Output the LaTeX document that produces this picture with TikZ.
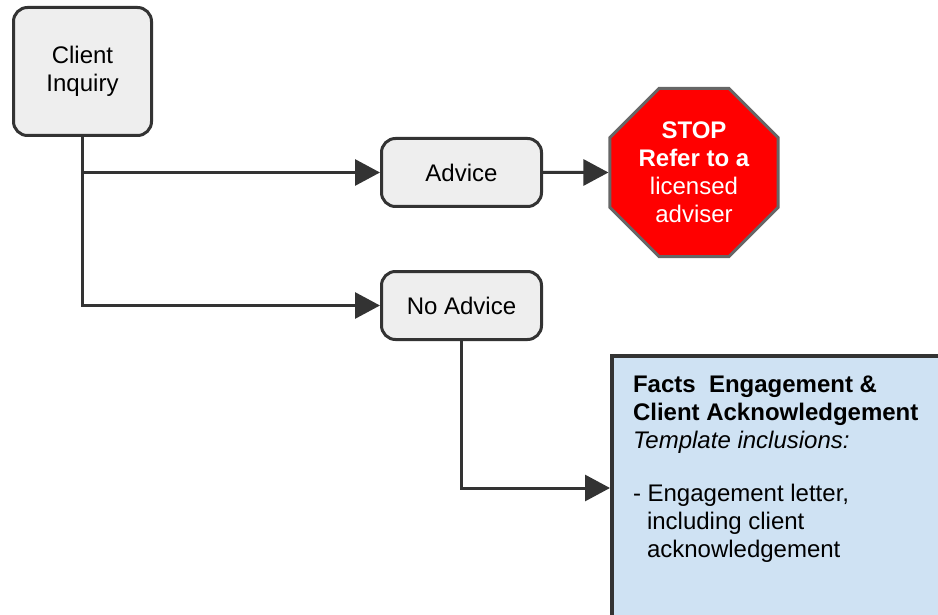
\documentclass[tikz,border=0pt]{standalone}
\usepackage{fontspec}
\setmainfont{Liberation Sans}
\usetikzlibrary{shapes.geometric, positioning, arrows.meta}

\definecolor{boxgray}{HTML}{EEEEEE}
\definecolor{linegray}{HTML}{333333}
\definecolor{stopedge}{HTML}{666666}
\definecolor{stopred}{HTML}{FF0000}
\definecolor{factsblue}{HTML}{CFE2F3}

\begin{document}
\begin{tikzpicture}[>={Triangle[length=25pt,width=26pt]}, x=1pt, y=-1pt,
    node distance=133pt, font=\fontsize{24}{28}\selectfont, align=center]

    \tikzset{
      stepbox/.style = {shape=rectangle, draw=linegray, fill=boxgray,
        rounded corners=14pt, line width=3pt, minimum width=160pt,
        minimum height=68pt},
      stopsign/.style = {regular polygon, regular polygon sides=8,
        draw=stopedge, fill=stopred, line width=3pt, text=white,
        minimum size=182pt, inner sep=0pt},
      factsbox/.style = {shape=rectangle, draw=linegray, fill=factsblue,
        line width=4pt, inner xsep=21pt, inner ysep=20pt, align=left},
      link/.style = {draw=linegray, line width=3pt},
      elbow/.style = {to path={|- (\tikztotarget)}},
    }

    \clip (0,0) rectangle (938,615);

    \node[stepbox, minimum width=138pt, minimum height=128pt]
      (client) at (82.5,71.5) {Client\\Inquiry};
    \node[stepbox] (advice) at (461.5,172.5) {Advice};
    \node[stepbox, below of=advice] (noadvice) {No Advice};
    \node[stopsign, right of=advice, node distance=232.5pt] (stop)
      {\textbf{STOP}\\\textbf{Refer to a}\\licensed\\adviser};
    \node[factsbox, anchor=north west] (facts) at (610,354)
      {\parbox[t][224pt][t]{330pt}{\raggedright
        \textbf{Facts\ \ Engagement \&}\\
        \textbf{Client Acknowledgement}\\
        \textit{Template inclusions:}\\[25pt]
        - Engagement letter,\\
        \hspace*{14pt}including client\\
        \hspace*{14pt}acknowledgement}};

    \path[->]
      (client.south)   edge[link, elbow] (advice.west)
      (client.south)   edge[link, elbow] (noadvice.west)
      (advice.east)    edge[link]        (stop.west)
      (noadvice.south) edge[link, elbow] (facts.west);

  \end{tikzpicture}
\end{document}
